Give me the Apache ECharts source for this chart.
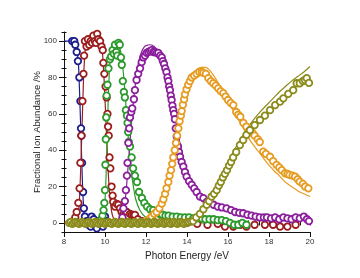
<!DOCTYPE html>
<html><head><meta charset="utf-8">
<script src="https://cdn.jsdelivr.net/npm/echarts@6/dist/echarts.min.js"></script>
<style>html,body{margin:0;padding:0;background:#fff}#c{width:360px;height:278px}</style>
</head><body><div id="c"></div>
<script>
// ---- data (x = photon energy eV, y = fractional abundance %) ----
const xTicks = [8, 10, 12, 14, 16, 18, 20];
const yTicks = [0, 20, 40, 60, 80, 100];

const blueData = [[8.4,100],[8.5,100],[8.55,98],[8.62,94],[8.68,89],[8.75,80],[8.8,67],[8.83,52],[8.85,48],[8.88,33],[8.93,17],[8.97,8],[9.02,3.5],[9.1,1],[9.2,-1],[9.3,-2],[9.35,3.5],[9.45,2],[9.52,-1],[9.6,-3],[9.7,1],[9.8,0],[9.9,-2],[10.0,3.5],[10.1,1],[10.2,0]];
const blueFit = [[8.0,100],[8.5,100],[8.6,97],[8.7,88],[8.75,75],[8.8,58],[8.85,40],[8.9,22],[8.95,10],[9.0,4],[9.1,1],[9.3,0],[10.5,0]];

const redData = [[8.45,1],[8.55,3],[8.62,6],[8.7,11],[8.76,19],[8.8,33],[8.85,48],[8.9,67],[8.95,82],[8.98,92],[9.02,100],[9.1,97],[9.17,101],[9.23,98],[9.3,100],[9.37,99],[9.43,103],[9.5,100],[9.56,99],[9.62,104],[9.68,101],[9.76,100],[9.83,97],[9.89,95],[9.92,88],[9.97,82],[10.03,75],[10.08,69],[10.12,60],[10.15,53],[10.18,48],[10.22,36],[10.26,30],[10.32,20],[10.37,15],[10.4,11.6],[10.49,9],[10.57,10.5],[10.65,10],[10.73,8],[10.81,6],[10.9,5],[10.98,4.4],[11.06,6],[11.14,3.5],[11.22,5],[11.3,4.4],[11.38,4.4],[11.46,4.4],[11.6,2],[11.8,1],[12.0,0],[12.3,1],[12.6,0],[13.0,0.5],[13.5,0],[14.0,0],[14.5,-0.5],[15.0,-1],[15.5,-0.5],[15.85,-2],[16.26,-2],[16.6,-1],[16.9,-2],[17.3,-1],[17.8,-1],[18.2,-1],[18.54,-2],[18.9,-2],[19.3,-1]];
const redFit = [[8.0,0],[8.6,0],[8.7,5],[8.75,12],[8.8,25],[8.85,42],[8.9,60],[8.95,78],[9.0,90],[9.05,97],[9.1,100],[9.8,100],[9.85,97],[9.9,90],[9.95,80],[10.0,68],[10.05,55],[10.1,42],[10.15,30],[10.2,20],[10.3,8],[10.4,3],[10.6,0.5],[12.0,0]];

const greenData = [[9.75,1],[9.82,2],[9.88,4],[9.93,7],[9.97,11],[10.0,18],[10.02,32],[10.04,46],[10.06,58],[10.08,70],[10.12,76],[10.17,85],[10.24,90],[10.3,91.5],[10.37,95],[10.43,93],[10.49,98],[10.55,94],[10.6,92],[10.66,99],[10.72,98],[10.78,91],[10.82,87],[10.87,78],[10.92,72],[10.97,69],[11.02,62],[11.07,59],[11.1,55],[11.13,50],[11.16,44.5],[11.22,42],[11.3,36],[11.37,30],[11.46,26],[11.56,22.5],[11.66,17],[11.8,13.7],[11.92,11],[12.05,9],[12.2,7.5],[12.35,7],[12.5,5.5],[12.65,5],[12.8,4.5],[12.95,4],[13.1,4],[13.3,3.5],[13.5,3.5],[13.7,3],[13.9,3],[14.1,3],[14.3,2.5],[14.5,2.5],[14.7,2.5],[14.9,2],[15.1,2],[15.3,2],[15.5,1.5],[15.7,1.5],[15.9,1],[16.1,0],[16.3,-1],[16.5,-1],[16.7,0],[16.9,-1]];
const greenFit = [[9.8,0],[9.9,2],[9.95,5],[10.0,12],[10.05,25],[10.1,45],[10.15,65],[10.2,80],[10.25,90],[10.3,95],[10.4,98],[10.6,99],[10.7,97],[10.8,92],[10.9,82],[11.0,68],[11.1,52],[11.2,38],[11.3,27],[11.4,19],[11.5,13],[11.7,7],[12.0,3],[12.5,1],[13.0,0],[17.0,0]];

const purpleData = [[10.7,0],[10.8,1],[10.85,3],[10.9,8],[10.97,12],[11.02,18],[11.07,26],[11.1,33],[11.14,44],[11.18,52],[11.22,58],[11.28,61],[11.33,63],[11.41,68],[11.46,73],[11.54,78.6],[11.62,82],[11.71,85],[11.79,88.4],[11.87,91],[11.95,92],[12.03,93.5],[12.11,94],[12.2,94.5],[12.28,95],[12.36,94],[12.44,94],[12.52,93.5],[12.6,93.5],[12.69,92],[12.77,91],[12.82,89],[12.88,87.4],[12.94,85],[13.0,83],[13.05,80],[13.09,78],[13.13,75],[13.17,73],[13.21,70],[13.25,67.6],[13.29,64.5],[13.33,62],[13.37,60],[13.41,57],[13.45,52],[13.5,47.5],[13.56,42],[13.61,39],[13.66,36.4],[13.74,33.5],[13.82,31],[13.9,28],[13.98,25.5],[14.1,23],[14.23,21],[14.35,19],[14.47,17],[14.63,14.5],[14.8,13.6],[14.96,11.6],[15.12,11],[15.3,10],[15.5,9],[15.7,8.5],[15.93,8],[16.15,7],[16.35,6],[16.55,5.5],[16.74,5.3],[16.95,4.5],[17.15,4],[17.35,3.5],[17.55,3],[17.75,3],[17.9,3],[18.1,2.5],[18.3,3],[18.5,2],[18.7,3],[18.9,2.5],[19.1,2],[19.3,3],[19.5,2.5],[19.7,3.5],[19.85,2],[19.95,1]];
const purpleFit = [[10.7,0],[10.8,2],[10.9,6],[11.0,14],[11.1,27],[11.2,42],[11.3,56],[11.4,68],[11.5,78],[11.6,86],[11.7,91],[11.8,94.5],[11.9,96.5],[12.0,97.5],[12.2,98],[12.4,97],[12.6,94],[12.8,89],[13.0,82],[13.2,72],[13.4,60],[13.6,47],[13.8,36],[14.0,27],[14.2,21],[14.4,17],[14.6,14],[14.8,12],[15.0,11],[15.5,9],[16.0,7.5],[16.5,6],[17.0,5],[17.5,4],[18.0,3.5],[18.5,3],[19.0,3],[19.5,2.5],[20.0,2.5]];

const orangeData = [[12.0,1],[12.15,2],[12.28,3.5],[12.4,5],[12.52,6],[12.65,8],[12.77,10.6],[12.85,13],[12.93,16],[13.0,19],[13.09,22.5],[13.15,26],[13.22,29],[13.28,32.5],[13.33,36],[13.4,40],[13.46,44],[13.52,48],[13.58,52],[13.64,56],[13.7,59],[13.74,61.5],[13.8,65],[13.86,68],[13.9,70.7],[13.98,73.5],[14.06,76],[14.14,78],[14.23,80],[14.35,81],[14.47,82],[14.6,83],[14.72,83],[14.8,82.5],[14.92,82],[15.04,79.6],[15.16,78],[15.28,76.8],[15.4,75.5],[15.52,74],[15.64,72.5],[15.77,71.4],[15.88,69.5],[16.0,67.6],[16.13,66],[16.26,64.8],[16.4,61],[16.5,59.5],[16.6,58.4],[16.75,55],[16.9,53],[17.07,51],[17.2,49.5],[17.3,48],[17.45,46],[17.55,44.5],[17.72,39.2],[17.85,38],[18.05,36.4],[18.2,34],[18.37,31.9],[18.5,30.5],[18.62,29],[18.78,27.3],[18.9,27],[19.0,26.4],[19.15,26],[19.27,25.5],[19.4,24],[19.5,22.7],[19.65,21.5],[19.76,20],[19.92,19]];
const orangeFit = [[12.0,0],[12.3,2],[12.5,4],[12.7,8],[12.9,14],[13.1,22],[13.3,33],[13.5,46],[13.7,58],[13.9,69],[14.1,77],[14.3,82],[14.5,84.5],[14.7,85.5],[14.9,85.5],[15.1,84],[15.3,81],[15.5,77.5],[15.7,73.5],[15.9,69],[16.1,65],[16.3,61],[16.5,57],[16.7,53],[16.9,49],[17.1,45],[17.3,42],[17.5,39],[17.7,36],[17.9,33],[18.1,30.5],[18.3,28],[18.5,26],[18.7,23.5],[18.9,21.5],[19.1,20],[19.3,18.5],[19.5,17],[19.7,16],[20.0,14.5]];

const oliveData = [[8.25,0],[8.33,0.5],[8.41,-0.5],[8.49,0],[8.57,0.5],[8.65,0],[8.73,-0.5],[8.81,0],[8.89,0.5],[8.97,0],[9.05,-0.5],[9.13,0],[9.21,0.5],[9.29,0],[9.37,-0.5],[9.45,0],[9.53,0.5],[9.61,0],[9.69,-0.5],[9.77,0],[9.85,0.5],[9.93,0],[10.01,-0.5],[10.09,0],[10.17,0.5],[10.25,0],[10.33,-0.5],[10.41,0],[10.49,0.5],[10.57,0],[10.65,-0.5],[10.73,0],[10.81,0.5],[10.89,0],[10.97,-0.5],[11.05,0],[11.13,0.5],[11.21,0],[11.29,-0.5],[11.37,0],[11.45,0.5],[11.53,0],[11.61,-0.5],[11.69,0],[11.77,0.5],[11.85,0],[11.93,-0.5],[12.01,0],[12.09,0.5],[12.17,0],[12.25,-0.5],[12.33,0],[12.41,0.5],[12.49,0],[12.57,-0.5],[12.65,0],[12.73,0.5],[12.81,0],[12.89,-0.5],[12.97,0],[13.05,0.5],[13.13,0],[13.21,-0.5],[13.29,0],[13.37,0.5],[13.45,0],[13.53,-0.5],[13.61,0],[13.69,0.5],[13.77,0],[13.85,-0.5],[13.93,0],[14.01,0.5],[14.1,0.5],[14.2,0.8],[14.3,1],[14.45,3],[14.63,5],[14.8,7.5],[14.96,10],[15.08,12],[15.2,14.5],[15.32,16],[15.45,18],[15.55,20.5],[15.65,22.5],[15.75,25],[15.85,27],[15.95,29],[16.05,31.5],[16.15,33.5],[16.25,36],[16.4,39],[16.58,42.8],[16.74,45.6],[16.9,48.4],[17.07,51],[17.3,53.8],[17.56,56.6],[17.8,59],[18.05,62],[18.3,64.8],[18.54,66.7],[18.7,68.5],[18.94,71],[19.18,73],[19.35,76.8],[19.5,76.8],[19.65,78],[19.75,78.6],[19.84,79.6],[19.95,77]];
const oliveFit = [[8.2,0],[14.0,0],[14.3,1.5],[14.6,5],[14.9,10],[15.2,16],[15.5,22],[15.8,28.5],[16.1,35],[16.4,42],[16.7,47.5],[17.0,53],[17.3,57.5],[17.6,61.5],[17.9,65],[18.2,68.5],[18.5,72],[18.8,75],[19.1,78],[19.4,80.5],[19.7,83],[20.0,86]];

const colors = {blue:'#1d1d8c', red:'#9b1d1d', green:'#2c9a2c', purple:'#8b1e9c', orange:'#e69c22', olive:'#8b8b1b'};
const groups = [
  ['blue', blueData, blueFit],
  ['red', redData, redFit],
  ['green', greenData, greenFit],
  ['purple', purpleData, purpleFit],
  ['orange', orangeData, orangeFit],
  ['olive', oliveData, oliveFit]
];

const series = [];
groups.forEach(([name, pts, fit]) => {
  const c = colors[name];
  series.push({type:'line', data: fit, smooth: 0.3, showSymbol:false, silent:true,
    lineStyle:{color:c, width:1.2}, z:2});
  series.push({type:'scatter', data: pts, symbol:'circle', symbolSize:6.5,
    itemStyle:{color:'#fff', borderColor:c, borderWidth:1.8, opacity:1}, z:3});
});

const chart = echarts.init(document.getElementById('c'), null, {renderer:'canvas'});
chart.setOption({
  animation:false,
  grid:{left:64, right:50, top:32, bottom:46, containLabel:false},
  xAxis:[
    {type:'value', min:8, max:20, position:'bottom',
     axisLine:{onZero:false, lineStyle:{color:'#111', width:1}},
     axisTick:{show:true, customValues:xTicks, length:5, lineStyle:{color:'#111'}},
     axisLabel:{customValues:xTicks, color:'#333', fontSize:8, fontFamily:'Liberation Sans, Arial', margin:6},
     splitLine:{show:false},
     name:'Photon Energy /eV', nameLocation:'middle', nameGap:18,
     nameTextStyle:{color:'#222', fontSize:10, fontFamily:'Liberation Sans, Arial'}},
    {type:'value', min:8, max:20, interval:0.5, position:'bottom',
     axisLine:{show:false},
     axisTick:{show:true, inside:true, length:2.5, lineStyle:{color:'#111'}},
     axisLabel:{show:false}, splitLine:{show:false}},
    {type:'value', min:8, max:20, interval:0.5, position:'bottom',
     axisLine:{show:false},
     axisTick:{show:true, length:2.5, lineStyle:{color:'#111'}},
     axisLabel:{show:false}, splitLine:{show:false}}
  ],
  yAxis:[
    {type:'value', min:-5, max:105, position:'left',
     axisLine:{show:true, lineStyle:{color:'#111', width:1}},
     axisTick:{show:true, customValues:yTicks, length:5, lineStyle:{color:'#111'}},
     axisLabel:{customValues:yTicks, color:'#333', fontSize:8, fontFamily:'Liberation Sans, Arial', margin:7},
     splitLine:{show:false},
     name:'Fractional Ion Abundance /%', nameLocation:'middle', nameGap:22, nameMoveOverlap:false,
     nameTextStyle:{color:'#222', fontSize:9.5, fontFamily:'Liberation Sans, Arial'}},
    {type:'value', min:-5, max:105, interval:5, position:'left',
     axisLine:{show:false},
     axisTick:{show:true, inside:true, length:2.5, lineStyle:{color:'#111'}},
     axisLabel:{show:false}, splitLine:{show:false}},
    {type:'value', min:-5, max:105, interval:5, position:'left',
     axisLine:{show:false},
     axisTick:{show:true, length:2.5, lineStyle:{color:'#111'}},
     axisLabel:{show:false}, splitLine:{show:false}}
  ],
  series: series
});
</script>
</body></html>
